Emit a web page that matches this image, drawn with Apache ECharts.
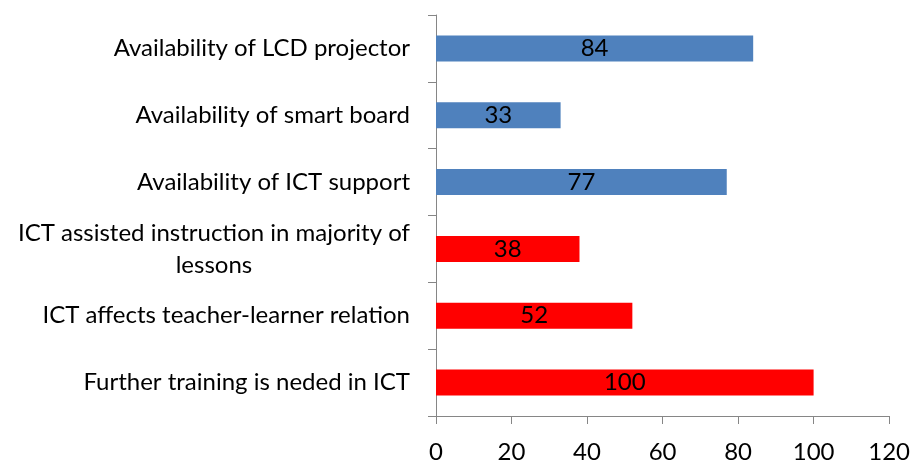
<!DOCTYPE html>
<html>
<head>
<meta charset="utf-8">
<script src="https://cdn.jsdelivr.net/npm/echarts@6/dist/echarts.min.js"></script>
<style>
  html, body { margin: 0; padding: 0; background: #ffffff; }
  #chart { width: 913px; height: 468px; }
</style>
</head>
<body>
<div id="chart"></div>
<script>
// bottom to top, as the category axis draws them
var categories = [
  'Further training is neded in ICT',
  'ICT affects teacher-learner relation',
  'ICT assisted instruction in majority of\nlessons',
  'Availability of ICT support',
  'Availability of smart board',
  'Availability of LCD projector'
]
var values = [100, 52, 38, 77, 33, 84]
var barColors = ['#ff0000', '#ff0000', '#ff0000', '#4f81bd', '#4f81bd', '#4f81bd']

var font = 'Lato, "Noto Sans", sans-serif'
var chart = echarts.init(document.getElementById('chart'))

chart.setOption({
  backgroundColor: '#ffffff',
  animation: false,
  grid: {
    left: 436,
    right: 22,
    top: 15,
    bottom: 52
  },
  xAxis: {
    type: 'value',
    min: 0,
    max: 120,
    interval: 20,
    splitLine: { show: false },
    axisLine: { show: true, lineStyle: { color: '#868686', width: 1 } },
    axisTick: { show: true, length: 8, lineStyle: { color: '#868686' } },
    axisLabel: {
      margin: 24,
      color: '#000',
      fontSize: 24,
      fontFamily: font
    }
  },
  yAxis: {
    type: 'category',
    data: categories,
    axisLine: { show: true, lineStyle: { color: '#868686', width: 1 } },
    axisTick: { show: true, length: 8, lineStyle: { color: '#868686' } },
    axisLabel: {
      margin: 26,
      color: '#000',
      fontSize: 24,
      fontFamily: font,
      lineHeight: 32,
      formatter: function (v) {
        return v.indexOf('\n') >= 0 ? '{m|' + v + '}' : v
      },
      rich: {
        m: {
          align: 'center',
          color: '#000',
          fontSize: 24,
          fontFamily: font,
          lineHeight: 32
        }
      }
    }
  },
  series: [
    {
      type: 'bar',
      barWidth: 26,
      data: values.map(function (v, i) {
        return { value: v, itemStyle: { color: barColors[i] } }
      }),
      label: {
        show: true,
        position: 'inside',
        color: '#000',
        fontSize: 24,
        fontFamily: font
      }
    }
  ]
})
</script>
</body>
</html>
